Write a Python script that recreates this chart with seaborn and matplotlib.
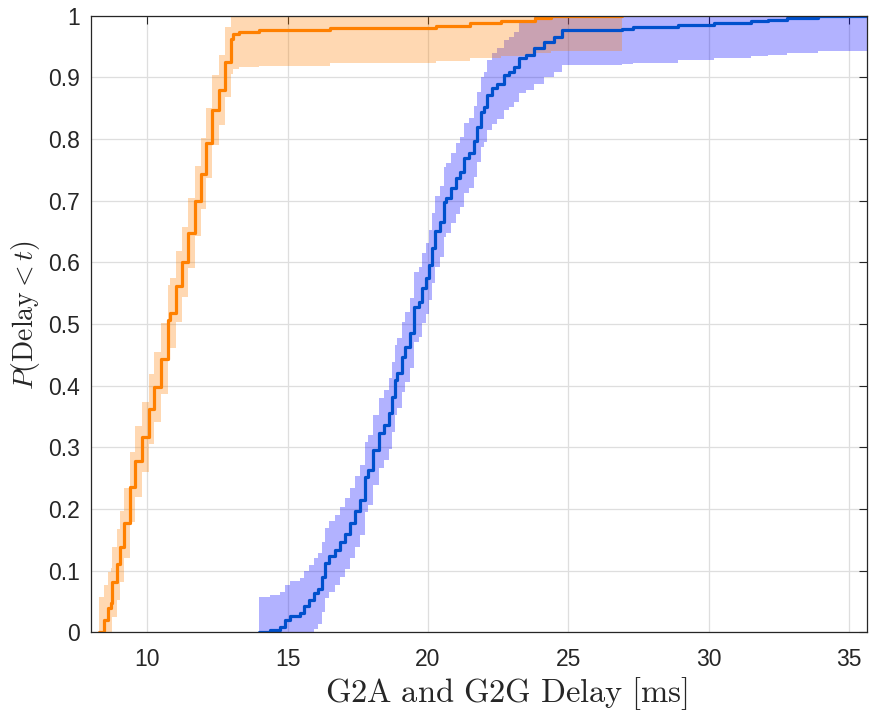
import numpy as np
import pandas as pd
import matplotlib
matplotlib.use("Agg")
import matplotlib.pyplot as plt
import seaborn as sns

g2a_delay = [8.30, 8.48, 8.60, 8.70, 8.76, 8.93, 9.03, 9.19, 9.38, 9.58,
             9.82, 10.06, 10.24, 10.50, 10.74, 10.83, 11.01, 11.25, 11.45, 11.69,
             11.90, 12.11, 12.31, 12.55, 12.78, 12.97, 13.05, 13.26, 14.0, 16.5,
             20.3, 21.5, 22.6, 23.8, 24.4, 26.9]
g2a_cdf = [0.0, 0.02, 0.04, 0.048, 0.082, 0.11, 0.139, 0.177, 0.236, 0.277,
           0.317, 0.362, 0.398, 0.444, 0.506, 0.518, 0.561, 0.60, 0.647, 0.70,
           0.744, 0.793, 0.847, 0.879, 0.925, 0.963, 0.970, 0.973, 0.976, 0.980,
           0.984, 0.988, 0.992, 0.997, 1.0, 1.0]

g2g_delay = [13.97, 14.38, 14.74, 14.92, 15.09, 15.45, 15.57, 15.75, 15.93, 16.10,
             16.22, 16.34, 16.46, 16.70, 16.88, 17.05, 17.23, 17.41, 17.59, 17.77,
             17.88, 18.06, 18.24, 18.42, 18.60, 18.72, 18.84, 18.89, 19.07, 19.19,
             19.37, 19.50, 19.68, 19.80, 19.92, 20.04, 20.15, 20.27, 20.43, 20.57,
             20.63, 20.81, 20.99, 21.16, 21.28, 21.46, 21.64, 21.76, 21.88, 22.00,
             22.11, 22.29, 22.47, 22.71, 22.88, 23.06, 23.24, 23.48, 23.77, 24.13,
             24.49, 24.78, 26.9, 27.3, 28.9, 30.2, 31.5, 32.1, 32.8, 33.9, 35.63]
g2g_cdf = [0.0, 0.004, 0.009, 0.02, 0.026, 0.031, 0.042, 0.052, 0.063, 0.071,
           0.09, 0.112, 0.123, 0.133, 0.147, 0.16, 0.177, 0.196, 0.215, 0.252,
           0.263, 0.296, 0.323, 0.336, 0.355, 0.382, 0.409, 0.42, 0.447, 0.463,
           0.485, 0.528, 0.536, 0.558, 0.574, 0.596, 0.623, 0.65, 0.666, 0.698,
           0.704, 0.72, 0.736, 0.747, 0.769, 0.777, 0.796, 0.82, 0.844, 0.852,
           0.871, 0.882, 0.89, 0.904, 0.909, 0.917, 0.931, 0.936, 0.947, 0.958,
           0.966, 0.977, 0.979, 0.981, 0.985, 0.988, 0.991, 0.993, 0.996, 0.999, 1.0]

band_halfwidth = 0.057  # confidence band half-width

x_ticks = [10, 15, 20, 25, 30, 35]
y_ticks = [0, 0.1, 0.2, 0.3, 0.4, 0.5, 0.6, 0.7, 0.8, 0.9, 1]
y_tick_labels = ["0", "0.1", "0.2", "0.3", "0.4", "0.5", "0.6", "0.7", "0.8", "0.9", "1"]

# ---- styling ----
sns.set_theme(style="white")
plt.rcParams["font.family"] = ["Liberation Sans", "DejaVu Sans"]
plt.rcParams["mathtext.fontset"] = "cm"

ORANGE = "#FF8000"
BLUE_LINE = "#0050CC"
BLUE_BAND = "#0000FF"
AX_COL = "#262626"

fig = plt.figure(figsize=(8.71, 7.13), dpi=100)
ax = fig.add_axes([0.1045, 0.1132, 0.8906, 0.8648])

df_g2a = pd.DataFrame({"delay": g2a_delay, "F": g2a_cdf})
df_g2g = pd.DataFrame({"delay": g2g_delay, "F": g2g_cdf})


def draw_band(df, color):
    F = df["F"].to_numpy()
    lo = np.clip(F - band_halfwidth, 0, 1)
    hi = np.clip(F + band_halfwidth, 0, 1)
    ax.fill_between(df["delay"].to_numpy(), lo, hi, step="post",
                    color=color, alpha=0.3, lw=0, zorder=1)


# G2G (blue)
draw_band(df_g2g, BLUE_BAND)
sns.lineplot(data=df_g2g, x="delay", y="F", drawstyle="steps-post",
             estimator=None, sort=False, color=BLUE_LINE, lw=2.3, ax=ax, zorder=2)
# G2A (orange)
draw_band(df_g2a, ORANGE)
sns.lineplot(data=df_g2a, x="delay", y="F", drawstyle="steps-post",
             estimator=None, sort=False, color=ORANGE, lw=2.3, ax=ax, zorder=3)

ax.set_xlim(8, 35.63)
ax.set_ylim(0, 1)
ax.set_xticks(x_ticks)
ax.set_xticklabels([str(t) for t in x_ticks])
ax.set_yticks(y_ticks)
ax.set_yticklabels(y_tick_labels)

ax.grid(True, color="#DEDEDE", lw=0.9)
ax.set_axisbelow(True)
for s in ax.spines.values():
    s.set_color(AX_COL)
    s.set_linewidth(0.9)
    s.set_visible(True)
    s.set_zorder(5)

ax.tick_params(direction="in", top=True, right=True, length=5.5, width=0.8,
               color=AX_COL, labelcolor=AX_COL, labelsize=16.5)
ax.tick_params(axis="x", pad=11)
ax.tick_params(axis="y", pad=8)

ax.set_xlabel(r"$\mathrm{G2A\ and\ G2G\ Delay\ [ms]}$", fontsize=23.5, color=AX_COL)
ax.set_ylabel(r"$P(\mathrm{Delay} < t)$", fontsize=20, color=AX_COL)
ax.xaxis.set_label_coords(0.535, -0.07)
ax.yaxis.set_label_coords(-0.063, 0.515)

fig.savefig("out.png", dpi=100)
